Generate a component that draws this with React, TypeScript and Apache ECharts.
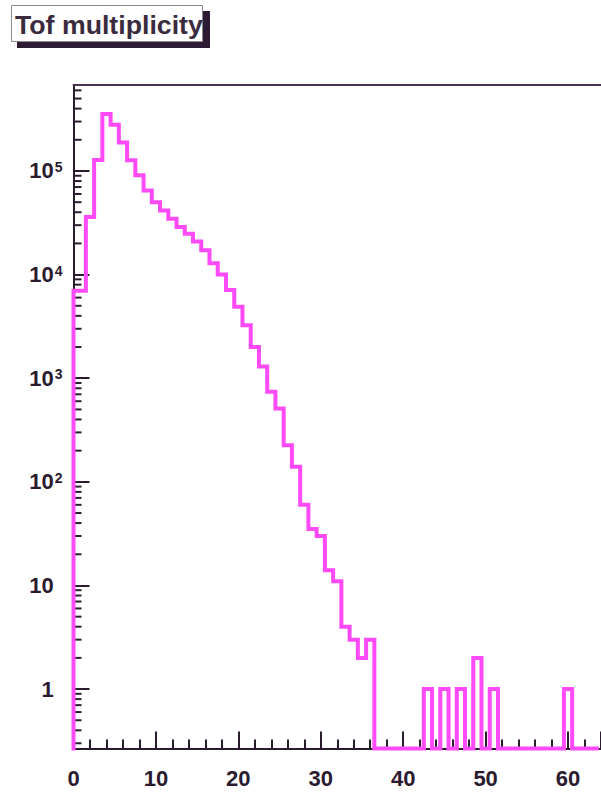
import React, { useEffect, useRef } from "react";
import * as echarts from "echarts";

// ---- data ----
const TITLE = "Tof multiplicity";
// bin contents, bins of width 1 centred on the integers 0..63
const COUNTS = [
  7000, 7000, 36000, 128000, 355000, 280000, 188000, 127000, 91000, 65000,
  50000, 41600, 34700, 28800, 24800, 20900, 17200, 12900, 10000, 7100,
  4900, 3250, 2000, 1300, 740, 510, 226, 140, 60, 35,
  30, 14, 11, 4, 3, 2, 3, 0, 0, 0,
  0, 0, 0, 1, 0, 1, 0, 1, 0, 2,
  0, 1, 0, 0, 0, 0, 0, 0, 0, 0,
  1, 0, 0, 0,
];
const BIN_WIDTH = 1;
const X_MIN = 0;
const X_MAX = 64;
const X_INTERVAL = 10;
const Y_MIN = 0.267;
const Y_MAX = 676000;
const MINOR_MULTIPLIERS = [2, 3, 4, 5, 6, 7, 8, 9];
const DECADES = [-1, 0, 1, 2, 3, 4, 5];

const FONT = "'Liberation Sans', Arial, Helvetica, sans-serif";
const INK = "#2b1b2f";
const MAGENTA = "#ff4af8";

function buildSteps() {
  const pts: number[][] = [[X_MIN, Y_MIN]];
  COUNTS.forEach((c, i) => {
    const v = c > 0 ? c : Y_MIN;
    const lo = Math.max(i - BIN_WIDTH / 2, X_MIN);
    const hi = Math.min(i + BIN_WIDTH / 2, X_MAX);
    pts.push([lo, v], [hi, v]);
  });
  return pts;
}

function minorTickValues() {
  const out: number[][] = [];
  DECADES.forEach((e) => {
    MINOR_MULTIPLIERS.forEach((m) => {
      const v = m * Math.pow(10, e);
      if (v > Y_MIN && v < Y_MAX) out.push([X_MIN, v]);
    });
  });
  return out;
}

export default function App() {
  const ref = useRef<HTMLDivElement>(null);
  useEffect(() => {
    if (!ref.current) return;
    const chart = echarts.init(ref.current, null, { renderer: "svg" });
    const baseStyle = {
      fontSize: 22,
      lineHeight: 22,
      fontWeight: "bold",
      fontFamily: FONT,
      color: INK,
      verticalAlign: "bottom",
    };
    chart.setOption({
      animation: false,
      backgroundColor: "#ffffff",
      grid: {
        left: 73.5,
        right: 0,
        top: 85,
        bottom: 43.5,
        outerBoundsMode: "none",
        containLabel: false,
      },
      xAxis: [
        {
          type: "value",
          min: X_MIN,
          max: X_MAX,
          interval: X_INTERVAL,
          splitLine: { show: false },
          axisLine: { show: true, lineStyle: { color: INK, width: 2 } },
          axisTick: { show: true, inside: true, length: 17, lineStyle: { color: INK, width: 2 } },
          minorTick: { show: true, splitNumber: 5, length: 9, lineStyle: { color: INK, width: 2 } },
          axisLabel: {
            margin: 19,
            fontSize: 22,
            fontWeight: "bold",
            fontFamily: FONT,
            color: INK,
            showMaxLabel: false,
          },
        },
        {
          type: "value",
          position: "top",
          min: X_MIN,
          max: X_MAX,
          splitLine: { show: false },
          axisLine: { show: true, lineStyle: { color: "#4a3550", width: 2 } },
          axisTick: { show: false },
          axisLabel: { show: false },
        },
      ],
      yAxis: {
        type: "log",
        logBase: 10,
        min: Y_MIN,
        max: Y_MAX,
        splitLine: { show: false },
        axisLine: { show: true, lineStyle: { color: INK, width: 2 } },
        axisTick: { show: true, inside: true, length: 16, lineStyle: { color: INK, width: 2 } },
        axisLabel: {
          margin: 11,
          showMinLabel: false,
          showMaxLabel: false,
          formatter: (v: number) => {
            const e = Math.round(Math.log10(v));
            if (e === 0) return "{b|1}{p|0}";
            if (e === 1) return "{b|10}{p|0}";
            return `{b|10}{s|${e}}`;
          },
          rich: {
            b: baseStyle,
            s: {
              fontSize: 14,
              lineHeight: 14,
              fontWeight: "bold",
              fontFamily: FONT,
              color: INK,
              verticalAlign: "top",
              padding: [0, 0, 17, 1],
            },
            p: {
              fontSize: 14,
              lineHeight: 14,
              fontWeight: "bold",
              fontFamily: FONT,
              color: "rgba(0,0,0,0)",
              verticalAlign: "top",
              padding: [0, 0, 0, 1],
            },
          },
        },
      },
      graphic: [
        {
          type: "rect",
          shape: { x: 17, y: 11, width: 193, height: 37 },
          style: { fill: "#2d1a33" },
          z: 10,
        },
        {
          type: "rect",
          shape: { x: 11.5, y: 5.5, width: 191, height: 36 },
          style: { fill: "#ffffff", stroke: "#8a8a8a", lineWidth: 1 },
          z: 11,
        },
        {
          type: "text",
          x: 15,
          y: 24.5,
          style: {
            text: TITLE,
            font: `bold 26.7px ${FONT}`,
            fill: "#3b2b3e",
            verticalAlign: "middle",
            align: "left",
          },
          z: 12,
        },
      ],
      series: [
        {
          type: "custom",
          xAxisIndex: 0,
          yAxisIndex: 0,
          data: minorTickValues(),
          silent: true,
          z: 1,
          renderItem: (_params: any, api: any) => {
            const p = api.coord([api.value(0), api.value(1)]);
            return {
              type: "line",
              shape: { x1: p[0], y1: p[1], x2: p[0] + 8, y2: p[1] },
              style: { stroke: INK, lineWidth: 2 },
            };
          },
        },
        {
          type: "line",
          xAxisIndex: 0,
          yAxisIndex: 0,
          data: buildSteps(),
          symbol: "none",
          clip: false,
          z: 3,
          lineStyle: { color: MAGENTA, width: 4, join: "miter", cap: "square" },
        },
      ],
    });
    return () => chart.dispose();
  }, []);
  return (
    <div
      ref={ref}
      style={{ position: "fixed", left: 0, top: 0, width: 601, height: 792 }}
    />
  );
}
